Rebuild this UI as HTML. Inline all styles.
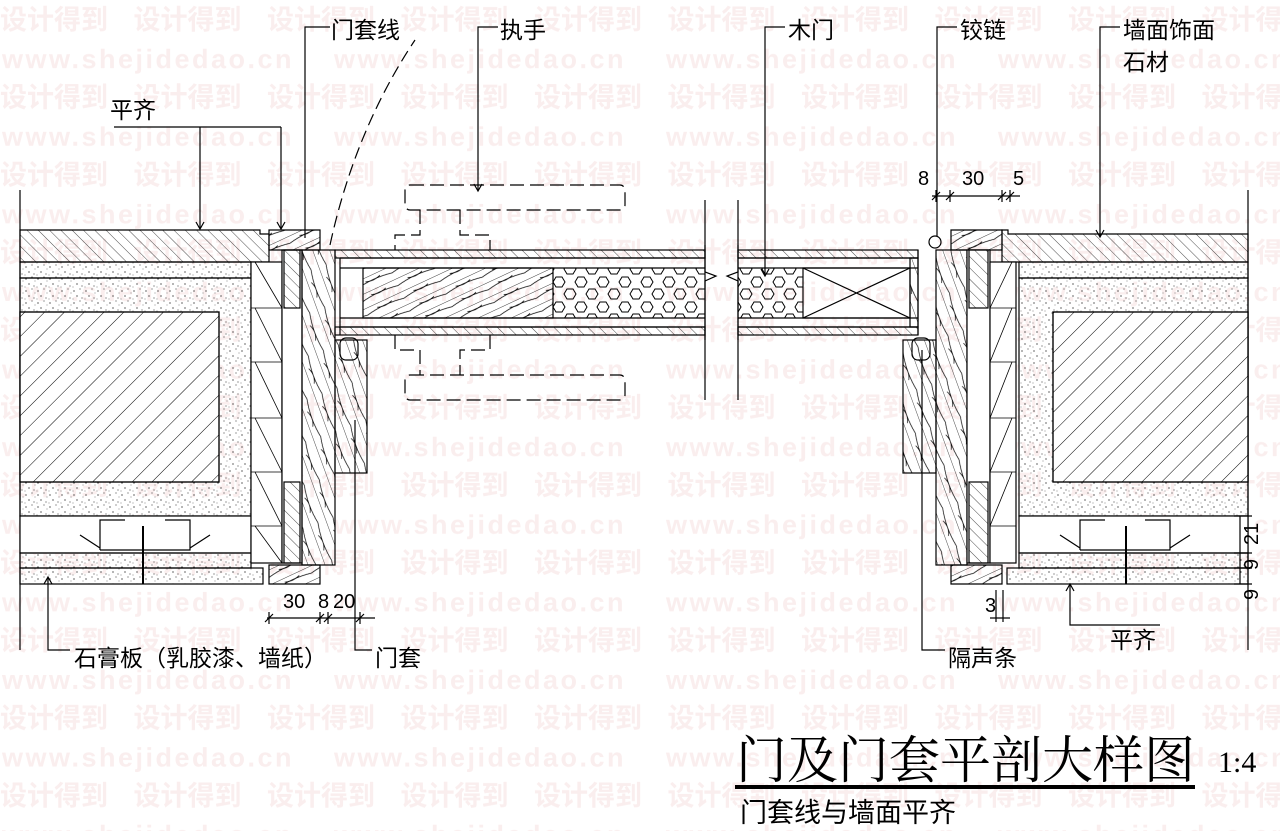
<!DOCTYPE html>
<html><head><meta charset="utf-8"><style>
html,body{margin:0;padding:0;background:#fff;width:1280px;height:831px;overflow:hidden}
svg{display:block}
.l{font-family:"Liberation Sans","Noto Sans CJK SC",sans-serif;font-size:23px;fill:#000}
.wm1{font-family:"Liberation Sans","Noto Sans CJK SC",sans-serif;font-size:27px;font-weight:bold;fill:#faeeee}
.wm2{font-family:"Liberation Sans","Noto Sans CJK SC",sans-serif;font-size:27px;font-weight:bold;fill:#faeeee;letter-spacing:2.5px}
.d{font-family:"Liberation Sans",sans-serif;font-size:20px;fill:#000}
</style></head><body>
<svg width="1280" height="831" viewBox="0 0 1280 831" xmlns="http://www.w3.org/2000/svg">
<defs>
<pattern id="w1" x="0" y="0" width="133.5" height="77.6" patternUnits="userSpaceOnUse"><text class="wm1" x="0" y="29">设计得到</text></pattern>
<pattern id="w2" x="0" y="0" width="332" height="77.6" patternUnits="userSpaceOnUse"><text class="wm2" x="2" y="68">www.shejidedao.cn</text></pattern>
<pattern id="hb" width="14" height="14" patternUnits="userSpaceOnUse" patternTransform="rotate(45)"><line x1="0" y1="0" x2="0" y2="14" stroke="#000" stroke-width="1"/></pattern>
<pattern id="hs" width="8" height="8" patternUnits="userSpaceOnUse" patternTransform="rotate(-45)"><line x1="0" y1="0" x2="0" y2="8" stroke="#000" stroke-width="0.7"/></pattern>
<pattern id="sp" width="12" height="12" patternUnits="userSpaceOnUse"><circle cx="2" cy="3" r=".6" fill="#000"/><circle cx="8" cy="1" r=".5" fill="#000"/><circle cx="5" cy="8" r=".6" fill="#000"/><circle cx="10" cy="10" r=".5" fill="#000"/><circle cx="1" cy="11" r=".4" fill="#000"/><circle cx="11" cy="5" r=".4" fill="#000"/></pattern>
<pattern id="wd" width="16" height="40" patternUnits="userSpaceOnUse" patternTransform="rotate(-20)"><path d="M0 0 V40 M8 0 Q4 20 8 40 M4 12 Q8 20 4 28" fill="none" stroke="#000" stroke-width=".7"/></pattern>
<pattern id="wh" width="40" height="14" patternUnits="userSpaceOnUse" patternTransform="rotate(-25)"><path d="M0 0 H40 M0 7 Q20 3 40 7 M12 4 Q20 7 28 4" fill="none" stroke="#000" stroke-width=".7"/></pattern>
<pattern id="hx" width="22" height="25" patternUnits="userSpaceOnUse"><path d="M6 2 L12 2 L15 7 L12 12 L6 12 L3 7Z M17 14 L23 14 L26 19 L23 24 L17 24 L14 19Z M-5 14 L1 14 L4 19 L1 24 L-5 24 L-8 19Z" fill="none" stroke="#000" stroke-width="1"/></pattern>
</defs>
<rect x="0" y="0" width="1280" height="831" fill="url(#w1)"/>
<rect x="0" y="0" width="1280" height="831" fill="url(#w2)"/>
<g stroke="#000" stroke-width="1.2" fill="none">
<line x1="20" y1="190" x2="20" y2="650"/>
<line x1="1248" y1="190" x2="1248" y2="650"/>
<!-- LEFT WALL -->
<path d="M20 230 H260 V234 H269 V262 H20Z" fill="url(#hs)"/>
<rect x="20" y="262" width="231" height="16" fill="url(#sp)"/>
<rect x="20" y="278" width="231" height="238" fill="url(#sp)"/>
<rect x="20" y="312" width="199" height="170" fill="#fff"/>
<rect x="20" y="312" width="199" height="170" fill="url(#hb)"/>
<rect x="20" y="516" width="231" height="37" fill="#fff"/>
<rect x="20" y="553" width="231" height="15" fill="url(#sp)"/>
<rect x="20" y="568" width="243" height="16" fill="url(#sp)"/>
<path d="M100 550 V520 H125 M100 550 H190 V520 H165 M80 535 L100 548 M210 535 L190 548"/>
<line x1="143" y1="526" x2="143" y2="584" stroke-width="2"/>
<rect x="251" y="262" width="31" height="301" fill="#fff"/>
<path d="M251 308 H282 M251 362 H282 M251 418 H282 M251 472 H282 M251 526 H282 M255 262 L282 308 M255 308 L282 362 M255 362 L282 418 M255 418 L282 472 M255 472 L282 526 M255 526 L282 563" stroke-width=".8"/>
<rect x="282" y="250" width="20" height="313" fill="#fff"/>
<rect x="284" y="250" width="16" height="58" fill="url(#hs)"/>
<rect x="284" y="482" width="16" height="81" fill="url(#hs)"/>
<rect x="302" y="250" width="33" height="315" fill="url(#wd)"/>
<rect x="335" y="340" width="32" height="133" fill="url(#wd)"/>
<path d="M269 230 H320 V250 H269Z" fill="url(#wh)"/>
<path d="M269 565 H320 V584 H269Z" fill="url(#wh)"/>
<rect x="340" y="338" width="18" height="22" rx="6"/>
<!-- DOOR LEAF -->
<rect x="335" y="250" width="370" height="8" fill="url(#hs)"/>
<rect x="335" y="327" width="370" height="8" fill="url(#hs)"/>
<rect x="738" y="250" width="180" height="8" fill="url(#hs)"/>
<rect x="738" y="327" width="180" height="8" fill="url(#hs)"/>
<line x1="340" y1="258" x2="705" y2="258"/><line x1="340" y1="268" x2="705" y2="268"/>
<line x1="340" y1="318" x2="705" y2="318"/><line x1="340" y1="327" x2="705" y2="327"/>
<line x1="738" y1="258" x2="918" y2="258"/><line x1="738" y1="268" x2="918" y2="268"/>
<line x1="738" y1="318" x2="918" y2="318"/><line x1="738" y1="327" x2="918" y2="327"/>
<line x1="340" y1="258" x2="340" y2="335"/>
<rect x="363" y="268" width="190" height="50" fill="url(#wh)"/>
<rect x="553" y="268" width="152" height="50" fill="url(#hx)" stroke="none"/>
<rect x="738" y="268" width="65" height="50" fill="url(#hx)" stroke="none"/>
<path d="M705 245 V272 L716 276 L705 281 V340 M738 245 V272 L727 276 L738 281 V340" fill="#fff"/>
<line x1="705" y1="200" x2="705" y2="400"/>
<line x1="738" y1="200" x2="738" y2="400"/>
<rect x="803" y="268" width="107" height="50"/>
<path d="M803 268 L910 318 M803 318 L910 268"/>
<rect x="910" y="258" width="8" height="69" fill="url(#wd)"/>
<line x1="918" y1="250" x2="918" y2="335"/>
<!-- RIGHT WALL -->
<path d="M1002 230 H1008 V234 H1248 V262 H1002Z" fill="url(#hs)"/>
<path d="M951 230 H1002 V250 H951Z" fill="url(#wh)"/>
<rect x="936" y="250" width="31" height="315" fill="url(#wd)"/>
<rect x="903" y="340" width="33" height="133" fill="url(#wd)"/>
<rect x="912" y="338" width="18" height="22" rx="6"/>
<circle cx="935" cy="242" r="6"/>
<rect x="967" y="250" width="23" height="313" fill="#fff"/>
<rect x="969" y="250" width="19" height="58" fill="url(#hs)"/>
<rect x="969" y="482" width="19" height="81" fill="url(#hs)"/>
<rect x="990" y="262" width="26" height="301" fill="#fff"/>
<path d="M990 308 H1016 M990 362 H1016 M990 418 H1016 M990 472 H1016 M990 526 H1016 M1012 262 L990 308 M1012 308 L990 362 M1012 362 L990 418 M1012 418 L990 472 M1012 472 L990 526" stroke-width=".8"/>
<rect x="1019" y="262" width="229" height="16" fill="url(#sp)"/>
<rect x="1019" y="278" width="229" height="238" fill="url(#sp)"/>
<rect x="1053" y="312" width="195" height="170" fill="#fff"/>
<rect x="1053" y="312" width="195" height="170" fill="url(#hb)"/>
<rect x="1019" y="516" width="229" height="37" fill="#fff"/>
<rect x="1019" y="553" width="229" height="15" fill="url(#sp)"/>
<rect x="1007" y="568" width="241" height="16" fill="url(#sp)"/>
<path d="M951 565 H1002 V584 H951Z" fill="url(#wh)"/>
<path d="M1080 550 V520 H1105 M1080 550 H1170 V520 H1145 M1060 535 L1080 548 M1190 535 L1170 548"/>
<line x1="1126" y1="526" x2="1126" y2="584" stroke-width="2"/>
<!-- handles -->
<g stroke-dasharray="14 6">
<rect x="405" y="185" width="220" height="25" rx="5"/>
<rect x="405" y="375" width="220" height="25" rx="5"/>
<path d="M420 210 V235 H395 V250 M460 210 V235 H490 V250 M395 335 V350 H420 V375 M490 335 V350 H460 V375"/>
<path d="M330 245 Q355 130 415 40" stroke-dasharray="12 6"/>
</g>
<!-- leaders -->
<path d="M114 127 H281 M200 127 V228 M281 127 V228"/>
<path d="M330 27 H305 V238"/>
<path d="M498 27 H478 V190"/>
<path d="M785 27 H765 V275"/>
<path d="M957 27 H937 V236"/>
<path d="M1120 27 H1100 V236"/>
<path d="M48 578 V650 H70"/>
<path d="M355 420 V650 H372"/>
<path d="M922 350 V650 H945"/>
<path d="M1070 585 V625 H1160"/>
<path d="M196 222 L200 229 L204 222 M277 222 L281 229 L285 222 M474 184 L478 191 L482 184 M761 269 L765 276 L769 269 M1096 230 L1100 237 L1104 230 M44 584 L48 577 L52 584 M1066 591 L1070 584 L1074 591"/>
<path d="M267 618 H375 M269 612 V624 M320 612 V624 M328 612 V624 M360 612 V624 M265 622 L273 614 M316 622 L324 614 M324 622 L332 614 M356 622 L364 614"/>
<path d="M932 196 H1020 M936 190 V202 M950 190 V202 M1002 190 V202 M1010 190 V202 M932 200 L940 192 M946 200 L954 192 M998 200 L1006 192 M1006 200 L1014 192"/>
<path d="M1240 516 V584 M1234 516 H1252 M1234 553 H1252 M1234 568 H1252 M1234 584 H1252"/>
<path d="M996 590 V622 M1003 590 V622 M990 618 H1010"/>
</g>
<text class="d" x="283" y="608">30</text>
<text class="d" x="318" y="608">8</text>
<text class="d" x="333" y="608">20</text>
<text class="d" x="918" y="185">8</text>
<text class="d" x="962" y="185">30</text>
<text class="d" x="1013" y="185">5</text>
<text class="d" transform="translate(1258,545) rotate(-90)">21</text>
<text class="d" transform="translate(1258,570) rotate(-90)">9</text>
<text class="d" transform="translate(1258,600) rotate(-90)">9</text>
<text class="d" x="985" y="612">3</text>
<text class="l" x="331" y="38">门套线</text>
<text class="l" x="500" y="38">执手</text>
<text class="l" x="788" y="38">木门</text>
<text class="l" x="960" y="38">铰链</text>
<text class="l" x="1123" y="38">墙面饰面</text>
<text class="l" x="1123" y="70">石材</text>
<text class="l" x="110" y="118">平齐</text>
<text class="l" x="74" y="666">石膏板（乳胶漆、墙纸）</text>
<text class="l" x="375" y="666">门套</text>
<text class="l" x="948" y="666">隔声条</text>
<text class="l" x="1110" y="648">平齐</text>
<text x="736" y="778" style="font-family:'Liberation Serif','Noto Serif CJK SC',serif;font-size:51px;fill:#000">门及门套平剖大样图</text>
<text x="1218" y="772" style="font-family:'Liberation Serif',serif;font-size:30px;fill:#000">1:4</text>
<rect x="735" y="785" width="460" height="4" fill="#000"/>
<text x="740" y="822" style="font-family:'Liberation Sans','Noto Sans CJK SC',sans-serif;font-size:27px;fill:#000">门套线与墙面平齐</text>
</svg>
</body></html>
